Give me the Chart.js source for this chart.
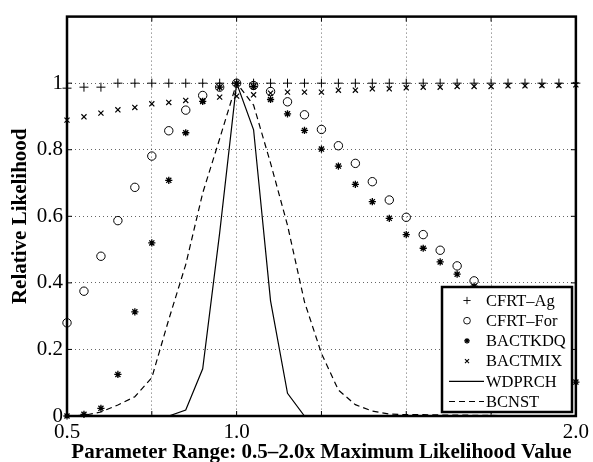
<!DOCTYPE html>
<html>
<head>
<meta charset="utf-8">
<script src="https://cdn.jsdelivr.net/npm/chart.js@4.4.1/dist/chart.umd.min.js"></script>
<style>
  html, body { margin: 0; padding: 0; background: #fff; }
</style>
</head>
<body>
<canvas id="likChart" width="593" height="462"></canvas>
<script>
/* =========================
   DATA
========================= */
const xValues = [0.5, 0.55, 0.6, 0.65, 0.7, 0.75, 0.8, 0.85, 0.9, 0.95, 1.0,
  1.05, 1.1, 1.15, 1.2, 1.25, 1.3, 1.35, 1.4, 1.45, 1.5,
  1.55, 1.6, 1.65, 1.7, 1.75, 1.8, 1.85, 1.9, 1.95, 2.0];

const cfrtAg = [0.985, 0.988, 0.988, 1.0, 1.0, 1.0, 1.0, 1.0, 1.0, 1.0, 1.0,
  1.0, 1.0, 1.0, 1.0, 1.0, 1.0, 1.0, 1.0, 1.0, 1.0,
  1.0, 1.0, 1.0, 1.0, 1.0, 1.0, 1.0, 1.0, 1.0, 1.0];

// last points are hidden behind the legend
const cfrtFor = [0.28, 0.375, 0.48, 0.587, 0.687, 0.781, 0.857, 0.919, 0.963, 0.988, 1.0,
  0.993, 0.975, 0.944, 0.905, 0.861, 0.812, 0.759, 0.704, 0.649, 0.597,
  0.545, 0.498, 0.451, 0.406, 0.36, 0.31, 0.26, 0.21, 0.16, null];

const bactKdq = [0.0, 0.005, 0.023, 0.125, 0.313, 0.52, 0.708, 0.851, 0.945, 0.988, 1.0,
  0.99, 0.951, 0.908, 0.858, 0.802, 0.751, 0.696, 0.644, 0.594, 0.545,
  0.504, 0.463, 0.426, 0.39, 0.34, 0.29, 0.24, 0.19, 0.145, 0.102];

const bactMix = [0.889, 0.899, 0.91, 0.92, 0.927, 0.938, 0.942, 0.948, 0.947, 0.958, 0.961,
  0.965, 0.97, 0.973, 0.973, 0.973, 0.979, 0.979, 0.983, 0.983, 0.986,
  0.988, 0.988, 0.99, 0.99, 0.99, 0.992, 0.992, 0.993, 0.993, 0.995];

const wdprch = [0, 0, 0, 0, 0, 0, 0, 0.018, 0.142, 0.55, 1.0,
  0.86, 0.346, 0.068, 0, 0, 0, 0, 0, 0, 0,
  0, 0, 0, 0, 0, 0, 0, 0, 0, 0];

const bcnst = [0, 0.002, 0.012, 0.033, 0.058, 0.115, 0.29, 0.455, 0.67, 0.833, 1.0,
  0.934, 0.76, 0.573, 0.343, 0.188, 0.078, 0.034, 0.015, 0.006, 0.004,
  0.004, 0.003, 0.003, 0.002, 0.002, 0.001, 0.001, 0, 0, 0];

const xTicks = [0.5, 0.75, 1.0, 1.25, 1.5, 1.75, 2.0];
const xLabelled = [0.5, 1.0, 2.0];
const yTicks = [0, 0.2, 0.4, 0.6, 0.8, 1];

/* =========================
   HELPERS
========================= */
const pts = arr => xValues.map((x, i) => ({ x: x, y: arr[i] }));
const SERIF = "'Liberation Serif', 'Times New Roman', serif";

function markerSet(label, arr, style, r, w) {
  return {
    label: label,
    data: pts(arr),
    showLine: false,
    pointStyle: style,
    pointRadius: r,
    pointBorderWidth: w,
    pointBorderColor: "#000",
    pointBackgroundColor: "rgba(0,0,0,0)",
    borderColor: "#000",
    clip: 8
  };
}

function lineSet(label, arr, dash) {
  return {
    label: label,
    data: pts(arr),
    borderColor: "#000",
    borderWidth: 1.2,
    borderDash: dash,
    pointRadius: 0,
    tension: 0,
    fill: false
  };
}

/* =========================
   FRAME + INWARD TICKS
========================= */
const framePlugin = {
  id: "frame",
  beforeDatasetsDraw(chart) {
    const { ctx, chartArea: a, scales } = chart;
    ctx.save();
    ctx.strokeStyle = "#000";
    ctx.lineWidth = 1;
    ctx.beginPath();
    xTicks.forEach(v => {
      const px = scales.x.getPixelForValue(v);
      ctx.moveTo(px, a.bottom); ctx.lineTo(px, a.bottom - 5);
      ctx.moveTo(px, a.top); ctx.lineTo(px, a.top + 5);
    });
    yTicks.forEach(v => {
      const py = scales.y.getPixelForValue(v);
      ctx.moveTo(a.left, py); ctx.lineTo(a.left + 5, py);
      ctx.moveTo(a.right, py); ctx.lineTo(a.right - 5, py);
    });
    ctx.stroke();
    ctx.lineWidth = 2.5;
    ctx.strokeRect(a.left, a.top, a.right - a.left, a.bottom - a.top);
    ctx.restore();
  }
};

/* =========================
   LEGENDA (in basso a destra)
========================= */
const legendPlugin = {
  id: "boxLegend",
  afterDraw(chart) {
    const ctx = chart.ctx;
    const box = { x: 442, y: 287, w: 130, h: 125 };
    ctx.save();
    ctx.fillStyle = "#fff";
    ctx.fillRect(box.x, box.y, box.w, box.h);
    ctx.lineWidth = 2.5;
    ctx.strokeStyle = "#000";
    ctx.strokeRect(box.x, box.y, box.w, box.h);

    ctx.font = "16.5px " + SERIF;
    ctx.textBaseline = "middle";
    ctx.textAlign = "left";
    chart.data.datasets.forEach((ds, i) => {
      const y = box.y + 13.5 + i * 20.2;
      ctx.strokeStyle = "#000";
      ctx.fillStyle = "rgba(0,0,0,0)";
      if (ds.showLine === false) {
        ctx.lineWidth = ds.pointBorderWidth * 0.9;
        Chart.helpers.drawPoint(ctx, {
          pointStyle: ds.pointStyle,
          radius: ds.pointRadius * 0.8,
          borderWidth: ds.pointBorderWidth * 0.9,
          rotation: 0
        }, box.x + 25, y);
      } else {
        ctx.lineWidth = ds.borderWidth;
        ctx.setLineDash(ds.borderDash || []);
        ctx.beginPath();
        ctx.moveTo(box.x + 7, y);
        ctx.lineTo(box.x + 42, y);
        ctx.stroke();
        ctx.setLineDash([]);
      }
      ctx.fillStyle = "#000";
      ctx.fillText(ds.label, box.x + 44, y + 1);
    });
    ctx.restore();
  }
};

/* =========================
   GRAFICO
========================= */
const ctx = document.getElementById("likChart");

new Chart(ctx, {
  type: "line",
  data: {
    datasets: [
      markerSet("CFRT–Ag", cfrtAg, "cross", 4.5, 1),
      markerSet("CFRT–For", cfrtFor, "circle", 4.2, 1),
      markerSet("BACTKDQ", bactKdq, "star", 3.6, 1.3),
      markerSet("BACTMIX", bactMix, "crossRot", 3.6, 1.2),
      lineSet("WDPRCH", wdprch, []),
      lineSet("BCNST", bcnst, [6, 4])
    ]
  },
  options: {
    responsive: false,
    animation: false,
    devicePixelRatio: 1,
    layout: { padding: { left: 0, right: 17, top: 14, bottom: 0 } },
    plugins: {
      legend: { display: false },
      tooltip: { enabled: false }
    },
    scales: {
      x: {
        type: "linear",
        min: 0.5,
        max: 2.0,
        afterBuildTicks: s => { s.ticks = xTicks.map(v => ({ value: v })); },
        afterFit: s => { s.height = 46; },
        ticks: {
          autoSkip: false,
          maxRotation: 0,
          padding: 4,
          color: "#000",
          font: { family: SERIF, size: 21 },
          callback: v => xLabelled.includes(v) ? v.toFixed(1) : ""
        },
        grid: { color: "rgba(0,0,0,0.6)", lineWidth: 1, drawTicks: false },
        border: { display: false, dash: [1, 3] },
        title: {
          display: true,
          text: "Parameter Range: 0.5–2.0x Maximum Likelihood Value",
          color: "#000",
          font: { family: SERIF, size: 21, weight: "bold", lineHeight: 1 },
          padding: { top: 0, bottom: -1 }
        }
      },
      y: {
        type: "linear",
        min: 0,
        max: 1.2,
        afterBuildTicks: s => { s.ticks = yTicks.map(v => ({ value: v })); },
        afterFit: s => { s.width = 67; },
        ticks: {
          padding: 4,
          color: "#000",
          font: { family: SERIF, size: 21 },
          callback: v => String(v)
        },
        grid: { color: "rgba(0,0,0,0.6)", lineWidth: 1, drawTicks: false },
        border: { display: false, dash: [1, 3] },
        title: {
          display: true,
          text: "Relative Likelihood",
          color: "#000",
          font: { family: SERIF, size: 21, weight: "bold", lineHeight: 1 },
          padding: { top: 10, bottom: 0 }
        }
      }
    }
  },
  plugins: [framePlugin, legendPlugin]
});
</script>
</body>
</html>
